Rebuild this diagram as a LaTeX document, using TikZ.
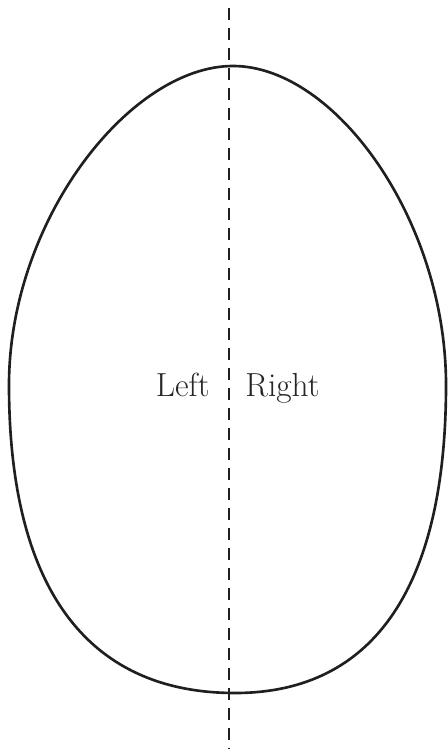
\documentclass[tikz,border=0pt]{standalone}
\begin{document}
\begin{tikzpicture}[
  x=0.02cm, y=-0.02cm,
  outline/.style={draw=black!88, line width=1.5pt},
  midline/.style={draw=black!88, line width=1.6pt, dash pattern=on 0.24cm off 0.16cm},
  sidelabel/.style={font=\fontsize{19}{23}\selectfont, text=black!85, inner sep=0pt}
]
\useasboundingbox (0,0) rectangle (447,749);
% egg outline
\coordinate (eggtop) at (233,66);
\coordinate (eggright) at (446,385);
\coordinate (eggbottom) at (235,693);
\coordinate (eggleft) at (9,385);
\draw[outline] (eggtop) .. controls (335,66) and (446,220) .. (eggright)
  .. controls (446,585) and (375,693) .. (eggbottom)
  .. controls (85,693) and (9,585) .. (eggleft)
  .. controls (9,220) and (130,66) .. cycle;
% dividing line
\coordinate (linetop) at (229,8);
\coordinate (linebottom) at (229,749);
\draw[midline] (linetop) -- (linebottom);
\node[sidelabel, anchor=base east] (leftlabel) at (210,396) {Left};
\node[sidelabel, anchor=base west] (rightlabel) at (245,396) {Right};
\end{tikzpicture}
\end{document}
